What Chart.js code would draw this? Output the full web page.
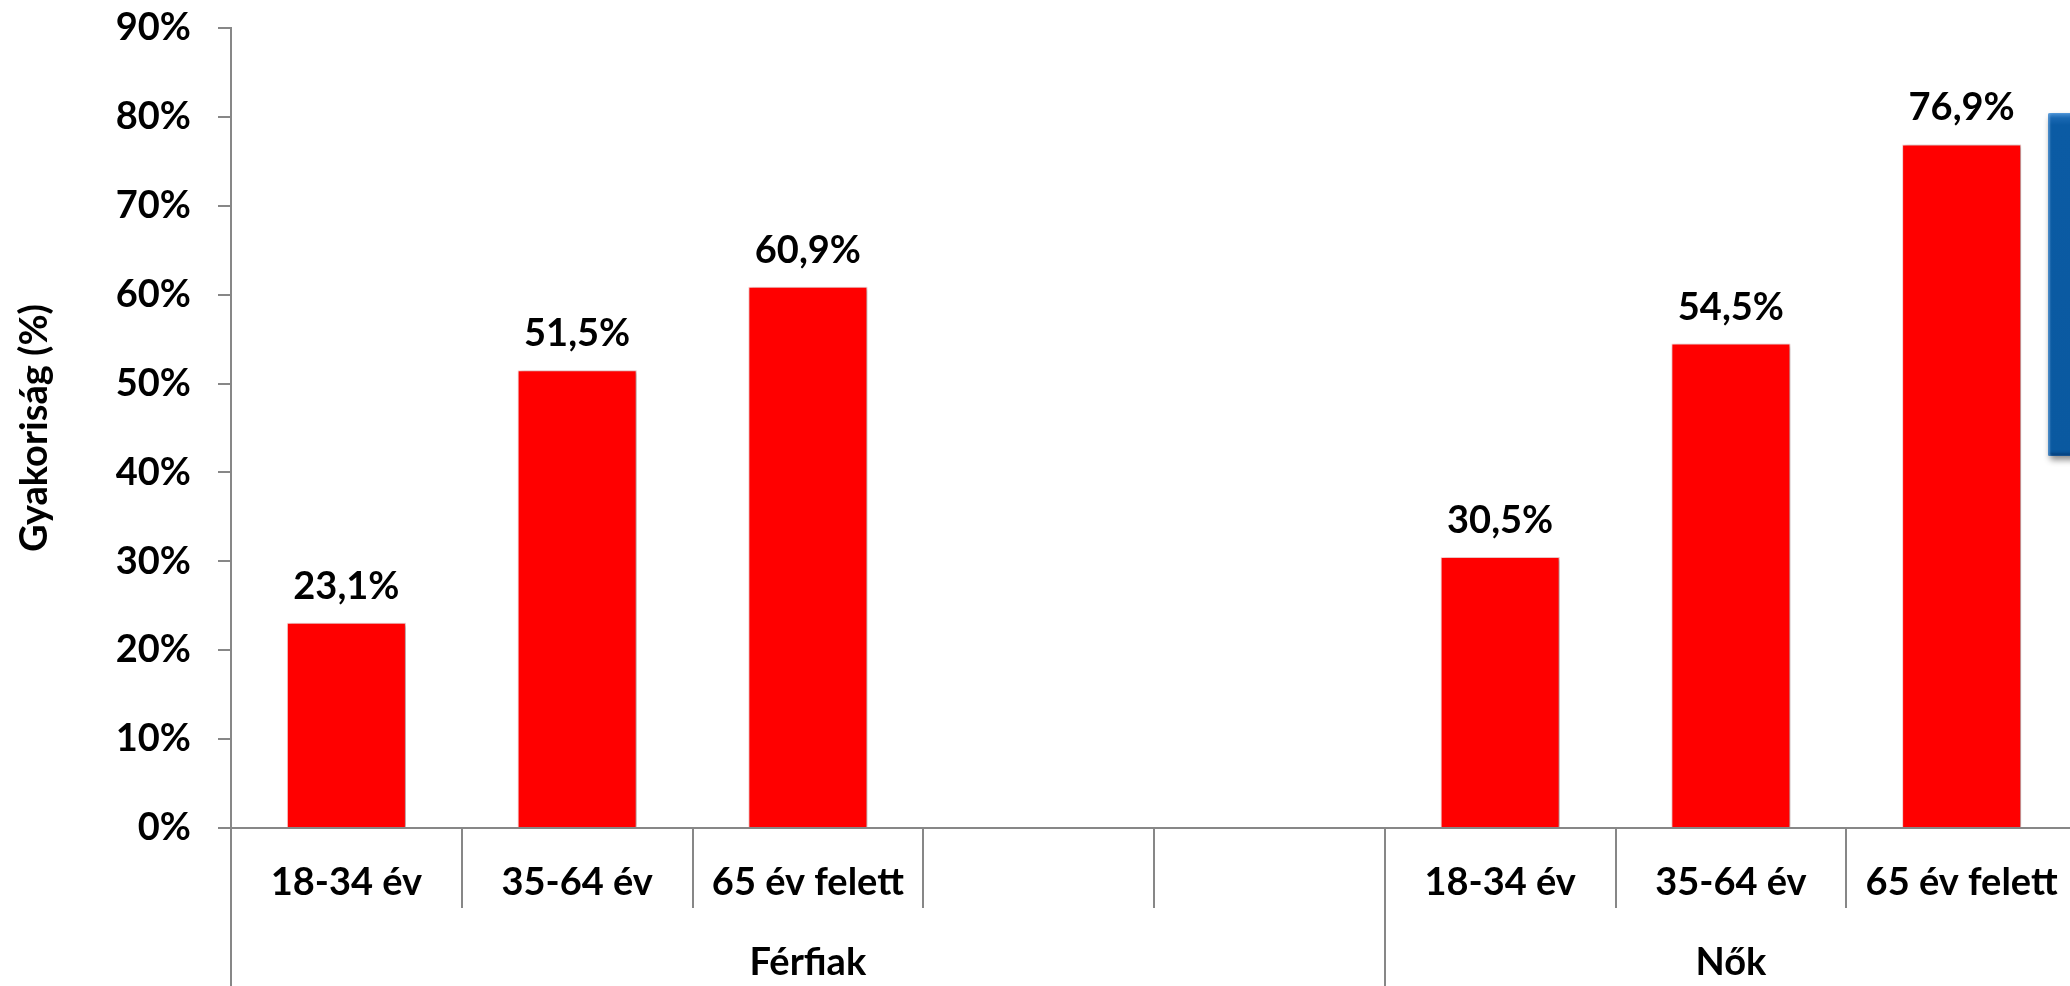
<!DOCTYPE html>
<html lang="hu">
<head>
<meta charset="utf-8">
<title>Gyakoriság korcsoport és nem szerint</title>
<script src="https://cdn.jsdelivr.net/npm/chart.js@4/dist/chart.umd.min.js"></script>
<style>
  html, body { margin: 0; padding: 0; background: #fff; overflow: hidden; }
  #page { position: relative; width: 2070px; height: 986px; overflow: hidden; }
  #wrap { position: absolute; left: 0; top: 0; width: 2080px; height: 986px; }
  #panel {
    position: absolute; left: 2048px; top: 113px; width: 60px; height: 343px;
    background: linear-gradient(to bottom, #4b93d6 0, #1a68b2 5px, #0b5ba4 12px, #0a59a0 100%);
    border-radius: 2px;
    box-shadow: 2px 4px 6px rgba(0, 0, 0, 0.45), inset 2px 0 2px rgba(120, 180, 235, 0.6), inset 0 -3px 3px rgba(0, 40, 90, 0.5);
  }
</style>
</head>
<body>
<div id="page">
  <div id="wrap"><canvas id="grafikon"></canvas></div>
  <div id="panel"></div>
</div>
<script>
  // korcsoportok (két üres hely választja el a két nemet)
  const categories = ['18-34 év', '35-64 év', '65 év felett', '', '', '18-34 év', '35-64 év', '65 év felett'];
  const values = [23.1, 51.5, 60.9, null, null, 30.5, 54.5, 76.9];

  // csoportcímkék és hogy hány oszlopot fognak át
  const groups = ['Férfiak', 'Nők'];
  const groupSizes = [5, 3];

  const yMax = 90;
  const yStep = 10;

  const FONT = 'Lato, "Open Sans", sans-serif';
  const GREY = '#878787';

  // csoporthatárok és -közepek a második x tengelyhez
  const bounds = [0];
  groupSizes.forEach(n => bounds.push(bounds[bounds.length - 1] + n));
  const centers = groupSizes.map((n, i) => bounds[i] + n / 2);

  const fmt = v => v.toFixed(1).replace('.', ',') + '%';

  const barShadow = {
    id: 'barShadow',
    beforeDatasetsDraw(chart) {
      const ctx = chart.ctx;
      ctx.save();
      ctx.shadowColor = 'rgba(0,0,0,0.35)';
      ctx.shadowBlur = 4;
      ctx.shadowOffsetX = 2;
      ctx.shadowOffsetY = 1;
    },
    afterDatasetsDraw(chart) {
      chart.ctx.restore();
    }
  };

  const valueLabels = {
    id: 'valueLabels',
    afterDatasetsDraw(chart) {
      const ctx = chart.ctx;
      const meta = chart.getDatasetMeta(0);
      ctx.save();
      ctx.font = 'bold 38px ' + FONT;
      ctx.fillStyle = '#000';
      ctx.textAlign = 'center';
      ctx.textBaseline = 'alphabetic';
      meta.data.forEach((bar, i) => {
        const v = values[i];
        if (v === null) return;
        ctx.fillText(fmt(v), bar.x, bar.y - 24);
      });
      ctx.restore();
    }
  };

  new Chart(document.getElementById('grafikon'), {
    type: 'bar',
    data: {
      labels: categories,
      datasets: [{
        data: values,
        backgroundColor: '#ff0000',
        borderColor: '#ffd6d6',
        borderWidth: 1,
        categoryPercentage: 1,
        barPercentage: 0.516
      }]
    },
    plugins: [barShadow, valueLabels],
    options: {
      responsive: true,
      maintainAspectRatio: false,
      animation: false,
      layout: { padding: { top: 28, right: 3, bottom: 0, left: 0 } },
      plugins: {
        legend: { display: false },
        tooltip: { enabled: false }
      },
      scales: {
        y: {
          min: 0,
          max: yMax,
          afterFit: axis => {
            axis.width = 231;
            axis.paddingTop = 0;
            axis.paddingBottom = 0;
          },
          ticks: {
            stepSize: yStep,
            padding: 27,
            color: '#000',
            font: { family: FONT, size: 38, weight: 'bold' },
            callback: v => v + '%'
          },
          grid: { drawOnChartArea: false, drawTicks: true, tickLength: 13, color: GREY, lineWidth: 2 },
          border: { display: true, color: GREY, width: 2 },
          title: {
            display: true,
            text: 'Gyakoriság (%)',
            color: '#000',
            padding: { top: 12, bottom: 0 },
            font: { family: FONT, size: 38, weight: 'bold' }
          }
        },
        x: {
          position: 'bottom',
          weight: 0,
          afterFit: axis => { axis.height = 80; },
          ticks: {
            autoSkip: false,
            maxRotation: 0,
            padding: -48,
            color: '#000',
            font: { family: FONT, size: 38, weight: 'bold' }
          },
          grid: { offset: true, drawOnChartArea: false, drawTicks: true, tickLength: 80, color: GREY, lineWidth: 2 },
          border: { display: true, color: GREY, width: 2 }
        },
        csoport: {
          type: 'linear',
          position: 'bottom',
          weight: 1,
          offset: false,
          min: 0,
          max: bounds[bounds.length - 1],
          afterFit: axis => { axis.height = 78; },
          afterBuildTicks: axis => {
            axis.ticks = bounds.concat(centers).sort((a, b) => a - b).map(v => ({ value: v }));
          },
          ticks: {
            autoSkip: false,
            maxRotation: 0,
            padding: -46,
            color: '#000',
            font: { family: FONT, size: 38, weight: 'bold' },
            callback: v => {
              const i = centers.indexOf(v);
              return i >= 0 ? groups[i] : '';
            }
          },
          grid: {
            offset: false,
            drawOnChartArea: false,
            drawTicks: true,
            tickLength: 78,
            lineWidth: 2,
            color: ctx => (ctx.tick && bounds.includes(ctx.tick.value)) ? GREY : 'rgba(0,0,0,0)'
          },
          border: { display: false }
        }
      }
    }
  });
</script>
</body>
</html>
